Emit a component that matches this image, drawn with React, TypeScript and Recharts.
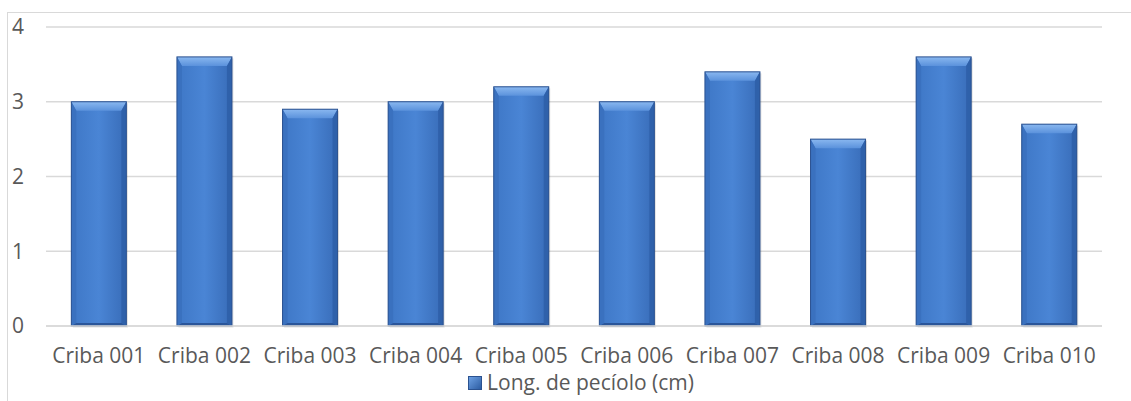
import React from 'react';
import { BarChart, Bar, XAxis, YAxis, CartesianGrid, Legend } from 'recharts';

const categories = ['Criba 001', 'Criba 002', 'Criba 003', 'Criba 004', 'Criba 005', 'Criba 006', 'Criba 007', 'Criba 008', 'Criba 009', 'Criba 010'];
const values = [3.0, 3.6, 2.9, 3.0, 3.2, 3.0, 3.4, 2.5, 3.6, 2.7];
const yTicks = [0, 1, 2, 3, 4];
const seriesName = 'Long. de pecíolo (cm)';

const data = categories.map((c, i) => ({ name: c, value: values[i] }));

const FONT = '"Open Sans", sans-serif';
const TEXT = '#595959';
const FS = 21;

const BevelBar = (props: any) => {
  const { x, y, width, height } = props;
  if (!height || height <= 0) return null;
  const b = Math.min(9, height / 2);
  const s = 5;
  return (
    <g>
      <rect x={x + 1.5} y={y + 1.5} width={width} height={height} fill="rgba(0,0,0,0.12)" />
      <rect x={x} y={y} width={width} height={height} fill="url(#barBody)" />
      <polygon points={`${x},${y} ${x + width},${y} ${x + width - s},${y + b} ${x + s},${y + b}`} fill="url(#barTop)" />
      <polygon points={`${x},${y} ${x + s},${y + b} ${x + s},${y + height - 3} ${x},${y + height}`} fill="#3a70be" opacity={0.9} />
      <polygon points={`${x + width},${y} ${x + width - s},${y + b} ${x + width - s},${y + height - 3} ${x + width},${y + height}`} fill="#2f5fa8" opacity={0.9} />
      <polygon points={`${x},${y + height} ${x + s},${y + height - 3} ${x + width - s},${y + height - 3} ${x + width},${y + height}`} fill="#2a5599" />
      <rect x={x} y={y} width={width} height={height} fill="none" stroke="#2b5290" strokeWidth={1} />
    </g>
  );
};

const YTick = (props: any) => {
  const { y, payload } = props;
  return (
    <text x={12} y={y} dy="0.35em" textAnchor="start" fontFamily={FONT} fontSize={FS} fill={TEXT}>
      {payload.value}
    </text>
  );
};

const XTick = (props: any) => {
  const { x, payload } = props;
  return (
    <text x={x} y={356} dy="0.35em" textAnchor="middle" fontFamily={FONT} fontSize={FS} fill={TEXT}>
      {payload.value}
    </text>
  );
};

const LegendContent = () => (
  <div style={{ height: 32, display: 'flex', justifyContent: 'center', alignItems: 'flex-start', paddingLeft: 60, fontFamily: FONT, fontSize: FS, color: TEXT }}>
    <svg width={14} height={14} style={{ marginTop: 7, marginRight: 5 }}>
      <defs>
        <linearGradient id="legGrad" x1="0" y1="0" x2="1" y2="1">
          <stop offset="0" stopColor="#6fa3e6" />
          <stop offset="1" stopColor="#2a5aa0" />
        </linearGradient>
      </defs>
      <rect x={0.5} y={0.5} width={13} height={13} fill="url(#legGrad)" stroke="#2b5290" />
    </svg>
    <span style={{ lineHeight: '26px' }}>{seriesName}</span>
  </div>
);

export default function App() {
  return (
    <div style={{ position: 'absolute', left: 0, top: 0, width: 1131, height: 401, background: '#fff', overflow: 'hidden' }}>
      <div style={{ position: 'absolute', left: 7, top: 12, width: 1130, height: 400, borderTop: '1px solid #d9d9d9', borderLeft: '1px solid #d9d9d9' }} />
      <BarChart
        width={1131}
        height={401}
        data={data}
        margin={{ top: 27, right: 29, bottom: 0, left: 0 }}
        barCategoryGap="24%"
        style={{ position: 'absolute', left: 0, top: 0 }}
      >
        <defs>
          <linearGradient id="barBody" x1="0" y1="0" x2="1" y2="0">
            <stop offset="0" stopColor="#3e77c6" />
            <stop offset="0.5" stopColor="#4a85d5" />
            <stop offset="1" stopColor="#386cb8" />
          </linearGradient>
          <linearGradient id="barTop" x1="0" y1="0" x2="0" y2="1">
            <stop offset="0" stopColor="#8ab8f0" />
            <stop offset="1" stopColor="#5b92dc" />
          </linearGradient>
        </defs>
        <CartesianGrid vertical={false} stroke="#d9d9d9" strokeWidth={1.5} />
        <XAxis dataKey="name" axisLine={{ stroke: '#d9d9d9', strokeWidth: 1.5 }} tickLine={false} height={43} tick={<XTick />} interval={0} />
        <YAxis domain={[0, 4]} ticks={yTicks} axisLine={false} tickLine={false} width={46} tick={<YTick />} />
        <Legend verticalAlign="bottom" content={<LegendContent />} />
        <Bar dataKey="value" name={seriesName} shape={<BevelBar />} isAnimationActive={false} />
      </BarChart>
    </div>
  );
}
